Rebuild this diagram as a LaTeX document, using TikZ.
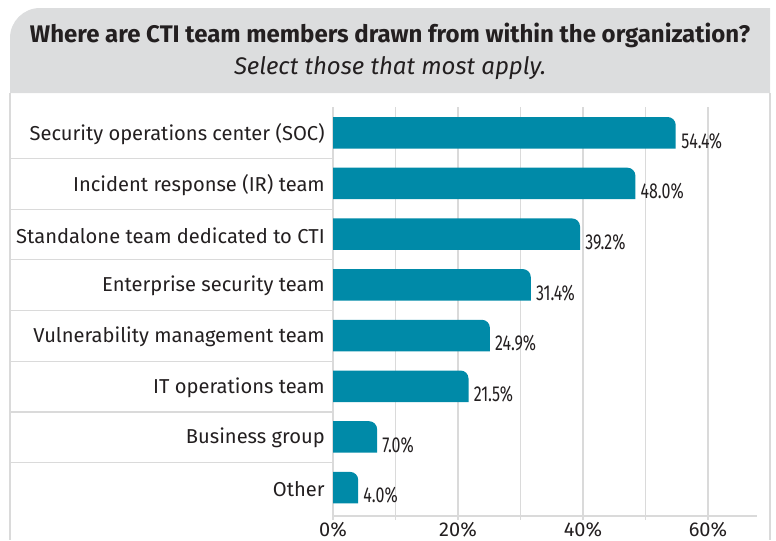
\documentclass[tikz,border=0pt]{standalone}
\usepackage{fontspec}
\setmainfont{Fira Sans}
\newfontfamily\condfont[FakeStretch=0.74]{Fira Sans}
\usepackage{xcolor}
\definecolor{barblue}{RGB}{0,138,168}
\definecolor{headgray}{RGB}{220,221,222}
\definecolor{gridgray}{RGB}{218,218,218}
\definecolor{textdark}{RGB}{35,31,32}
\newcommand{\ctibar}[2]{\fill[barblue] (333,#1+31.5) -- (333,#1) -- (#2-8,#1) arc[start angle=90,end angle=0,radius=6pt] -- (#2,#1+31.5) -- cycle;}

\begin{document}
\begin{tikzpicture}[x=0.75pt,y=-0.75pt,
        grid/.style={draw=gridgray, line width=0.9pt},
        cat/.style={anchor=east, text=textdark, font=\fontsize{15.1}{17}\selectfont, inner sep=0pt},
        val/.style={anchor=base west, text=textdark, font=\condfont\fontsize{16.2}{18}\selectfont, inner sep=0pt},
        tick/.style={anchor=base, text=textdark, font=\fontsize{15}{17}\selectfont, inner sep=0pt}]
        \useasboundingbox (0,0) rectangle (776,540);

        % header
        \fill[headgray] (10,93) -- (10,38) arc[start angle=180,end angle=90,radius=22.5pt] -- (770,8) -- (770,93) -- cycle;
        \node[text=textdark, font=\bfseries\fontsize{18}{21}\selectfont] (title) at (390,35) {Where are CTI team members drawn from within the organization?};
        \node[text=textdark, font=\itshape\fontsize{18}{21}\selectfont] (subtitle) at (390,68) {Select those that most apply.};

        % frame
        \draw[grid] (10,93) -- (10,540);
        \draw[grid] (770,93) -- (770,540);

        % grid
        \draw[grid] (395.5,107) -- (395.5,520);
        \draw[grid] (458,107) -- (458,520);
        \draw[grid] (520.5,107) -- (520.5,520);
        \draw[grid] (583,107) -- (583,520);
        \draw[grid] (645.5,107) -- (645.5,520);
        \draw[grid] (708,107) -- (708,520);
        \draw[grid] (333,107) -- (333,520);
        \draw[grid] (333,516) -- (757,516);

        \draw[grid] (10,158.4) -- (333,158.4);
        \draw[grid] (10,209.1) -- (333,209.1);
        \draw[grid] (10,259.8) -- (333,259.8);
        \draw[grid] (10,310.5) -- (333,310.5);
        \draw[grid] (10,361.2) -- (333,361.2);
        \draw[grid] (10,411.9) -- (333,411.9);
        \draw[grid] (10,462.6) -- (333,462.6);

        % bars
        \ctibar{117}{675.7}
        \ctibar{167.7}{635.4}
        \ctibar{218.4}{580}
        \ctibar{269.1}{530.8}
        \ctibar{319.8}{489.9}
        \ctibar{370.5}{468.5}
        \ctibar{421.2}{377.1}
        \ctibar{471.9}{358.2}

        \node[cat] (soc) at (325,134) {Security operations center (SOC)};
        \node[cat] (ir) at (325,184.7) {Incident response (IR) team};
        \node[cat] (standalone) at (325,235.4) {Standalone team dedicated to CTI};
        \node[cat] (enterprise) at (325,286.1) {Enterprise security team};
        \node[cat] (vuln) at (325,336.8) {Vulnerability management team};
        \node[cat] (itops) at (325,387.5) {IT operations team};
        \node[cat] (business) at (325,438.2) {Business group};
        \node[cat] (other) at (325,488.9) {Other};

        \node[val] (socval) at (681,148) {54.4\%};
        \node[val] (irval) at (640.4,198.7) {48.0\%};
        \node[val] (standaloneval) at (585,249.4) {39.2\%};
        \node[val] (enterpriseval) at (535.8,300.1) {31.4\%};
        \node[val] (vulnval) at (494.9,350.8) {24.9\%};
        \node[val] (itopsval) at (473.5,401.5) {21.5\%};
        \node[val] (businessval) at (382.1,452.2) {7.0\%};
        \node[val] (otherval) at (363.2,502.9) {4.0\%};

        % axis labels
        \node[tick] (t0) at (333,536) {0\%};
        \node[tick] (t20) at (458,536) {20\%};
        \node[tick] (t40) at (583,536) {40\%};
        \node[tick] (t60) at (708,536) {60\%};

    \end{tikzpicture}
\end{document}
